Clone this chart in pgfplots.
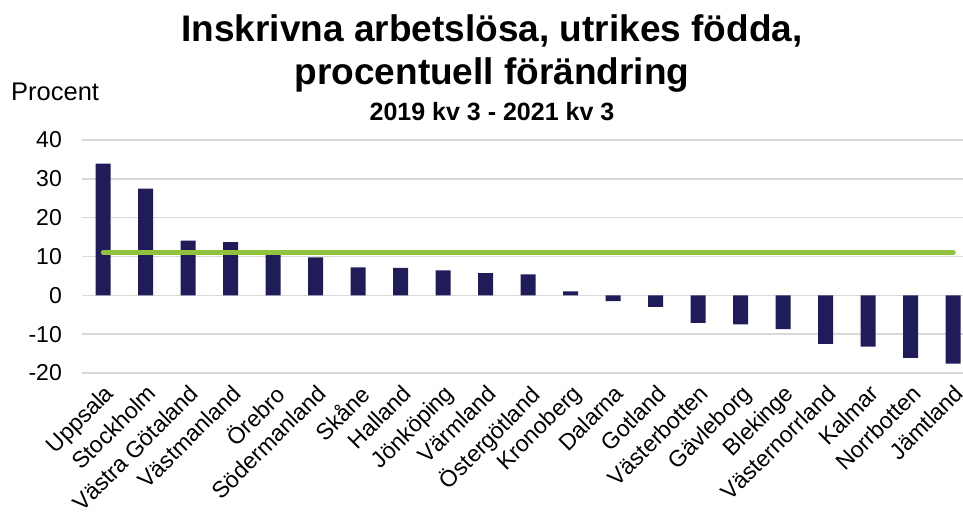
\documentclass[border=0pt]{standalone}
\usepackage{fontspec}
\setmainfont{Liberation Sans}
\usepackage{pgfplots}
\pgfplotsset{compat=1.18}
\definecolor{barc}{HTML}{201C5A}
\definecolor{linec}{HTML}{92C13E}
\definecolor{gridc}{HTML}{D9D9D9}
\begin{document}
\begin{tikzpicture}
\begin{axis}[
  at={(0pt,0pt)}, anchor=south west,
  scale only axis, width=881pt, height=233pt,
  xmin=-0.5, xmax=20.23, ymin=-20, ymax=40,
  ytick={-20,-10,0,10,20,30,40},
  xtick={0,...,20},
  xticklabels={Uppsala,Stockholm,Västra Götaland,Västmanland,Örebro,Södermanland,Skåne,Halland,Jönköping,Värmland,Östergötland,Kronoberg,Dalarna,Gotland,Västerbotten,Gävleborg,Blekinge,Västernorrland,Kalmar,Norrbotten,Jämtland},
  axis line style={draw=none},
  tick style={draw=none},
  ymajorgrids, grid style={gridc, line width=1.5pt},
  /pgf/number format/assume math mode=true,
  yticklabel style={font=\fontsize{23}{23}\selectfont, anchor=east, inner sep=0pt, xshift=-20pt},
  xticklabel style={font=\fontsize{23}{23}\selectfont, xshift=0pt, yshift=-10pt, rotate=45, anchor=north east, inner sep=0pt},
  clip=false,
]
\addplot[ybar, bar width=15pt, bar shift=0pt, fill=barc, draw=none] coordinates {
(0,33.9) (1,27.5) (2,14.1) (3,13.7) (4,10.4) (5,9.8) (6,7.2) (7,7.1) (8,6.4) (9,5.7)
(10,5.4) (11,1.0) (12,-1.5) (13,-3.0) (14,-7.1) (15,-7.5) (16,-8.7) (17,-12.5) (18,-13.2) (19,-16.1) (20,-17.6)
};
\addplot[linec, line width=5pt, line cap=round] coordinates {(0,11) (20,11)};
\end{axis}
\node[anchor=base west, inner sep=0pt, font=\fontsize{25.5}{25.5}\selectfont] at (-71pt,272pt) {Procent};
\node[anchor=base, inner sep=0pt, font=\fontsize{37}{37}\selectfont\bfseries] at (410pt,331pt) {Inskrivna arbetslösa, utrikes födda,};
\node[anchor=base, inner sep=0pt, font=\fontsize{37}{37}\selectfont\bfseries] at (410pt,288pt) {procentuell förändring};
\node[anchor=base, inner sep=0pt, font=\fontsize{25}{25}\selectfont\bfseries] at (410pt,252pt) {2019 kv 3 - 2021 kv 3};
\pgfresetboundingbox
\useasboundingbox (-82pt,-146pt) rectangle (881pt,373pt);
\end{tikzpicture}
\end{document}
